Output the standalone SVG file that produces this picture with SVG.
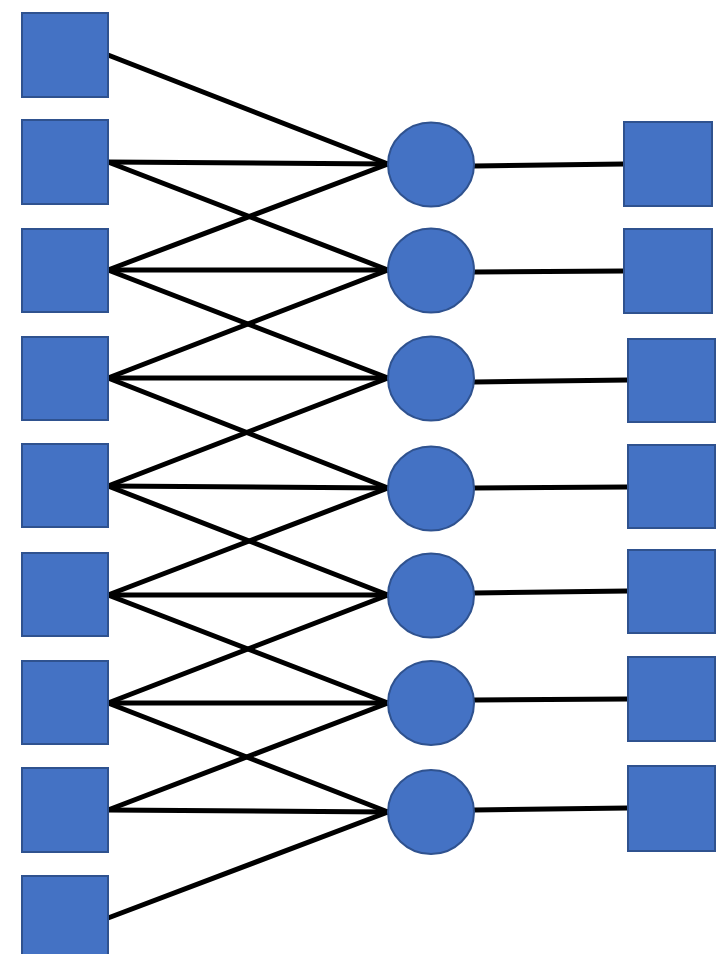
<svg xmlns="http://www.w3.org/2000/svg" width="728" height="954" viewBox="0 0 728 954">
<style>
.n{fill:#4472C4;stroke:#2F528F;stroke-width:2}
.c line{stroke:#000;stroke-width:5;stroke-linecap:round}
</style>
<rect width="728" height="954" fill="#fff"/>
<g class="c" id="connectors">
<line x1="108" y1="55" x2="388" y2="164"/>
<line x1="108" y1="162" x2="388" y2="164"/>
<line x1="108" y1="162" x2="388" y2="270"/>
<line x1="108" y1="270" x2="388" y2="164"/>
<line x1="108" y1="270" x2="388" y2="270"/>
<line x1="108" y1="270" x2="388" y2="378"/>
<line x1="108" y1="378" x2="388" y2="270"/>
<line x1="108" y1="378" x2="388" y2="378"/>
<line x1="108" y1="378" x2="388" y2="488"/>
<line x1="108" y1="486" x2="388" y2="378"/>
<line x1="108" y1="486" x2="388" y2="488"/>
<line x1="108" y1="486" x2="388" y2="595"/>
<line x1="108" y1="595" x2="388" y2="488"/>
<line x1="108" y1="595" x2="388" y2="595"/>
<line x1="108" y1="595" x2="388" y2="703"/>
<line x1="108" y1="703" x2="388" y2="595"/>
<line x1="108" y1="703" x2="388" y2="703"/>
<line x1="108" y1="703" x2="388" y2="812"/>
<line x1="108" y1="810" x2="388" y2="703"/>
<line x1="108" y1="810" x2="388" y2="812"/>
<line x1="108" y1="918" x2="388" y2="812"/>
<line x1="474" y1="166" x2="624" y2="164"/>
<line x1="474" y1="272" x2="624" y2="271"/>
<line x1="474" y1="382" x2="628" y2="380"/>
<line x1="474" y1="488" x2="628" y2="487"/>
<line x1="474" y1="593" x2="628" y2="591"/>
<line x1="474" y1="700" x2="628" y2="699"/>
<line x1="474" y1="810" x2="628" y2="808"/>
</g>
<g id="L1"><rect class="n" x="22" y="13" width="86" height="84"/></g>
<g id="L2"><rect class="n" x="22" y="120" width="86" height="84"/></g>
<g id="L3"><rect class="n" x="22" y="229" width="86" height="83"/></g>
<g id="L4"><rect class="n" x="22" y="337" width="86" height="83"/></g>
<g id="L5"><rect class="n" x="22" y="444" width="86" height="83"/></g>
<g id="L6"><rect class="n" x="22" y="553" width="86" height="83"/></g>
<g id="L7"><rect class="n" x="22" y="661" width="86" height="83"/></g>
<g id="L8"><rect class="n" x="22" y="768" width="86" height="84"/></g>
<g id="L9"><rect class="n" x="22" y="876" width="86" height="84"/></g>
<g id="C1"><ellipse class="n" cx="431" cy="164.5" rx="43" ry="42"/></g>
<g id="C2"><ellipse class="n" cx="431" cy="270.5" rx="43" ry="42"/></g>
<g id="C3"><ellipse class="n" cx="431" cy="378.5" rx="43" ry="42"/></g>
<g id="C4"><ellipse class="n" cx="431" cy="488.5" rx="43" ry="42"/></g>
<g id="C5"><ellipse class="n" cx="431" cy="595.5" rx="43" ry="42"/></g>
<g id="C6"><ellipse class="n" cx="431" cy="703" rx="43" ry="42"/></g>
<g id="C7"><ellipse class="n" cx="431" cy="812" rx="43" ry="42"/></g>
<g id="R1"><rect class="n" x="624" y="122" width="88" height="84"/></g>
<g id="R2"><rect class="n" x="624" y="229" width="88" height="84"/></g>
<g id="R3"><rect class="n" x="628" y="339" width="87" height="83"/></g>
<g id="R4"><rect class="n" x="628" y="445" width="87" height="83"/></g>
<g id="R5"><rect class="n" x="628" y="550" width="87" height="83"/></g>
<g id="R6"><rect class="n" x="628" y="657" width="87" height="84"/></g>
<g id="R7"><rect class="n" x="628" y="766" width="87" height="85"/></g>
</svg>
